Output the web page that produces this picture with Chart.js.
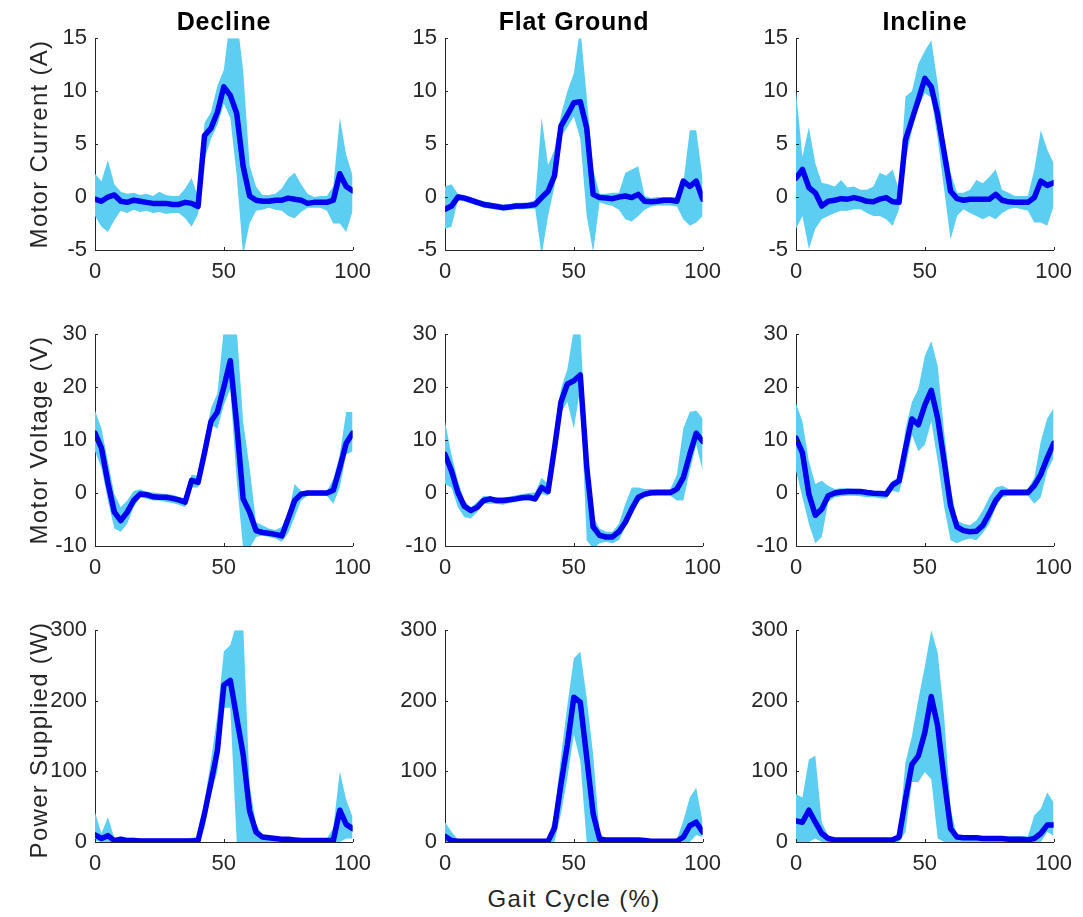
<!DOCTYPE html>
<html>
<head>
<meta charset="utf-8">
<script src="https://cdn.jsdelivr.net/npm/chart.js@4.4.1/dist/chart.umd.min.js"></script>
<style>
  body { margin: 0; background: #fff; }
  #fig { position: relative; width: 1083px; height: 917px; overflow: hidden;
         font-family: "Liberation Sans", Arial, Helvetica, sans-serif; color: #262626; }
  #fig canvas { position: absolute; }
  .txt { position: absolute; white-space: nowrap; text-align: center; }
  .title { font-weight: bold; font-size: 25px; line-height: 25px; letter-spacing: 0.8px; color: #000; width: 300px; }
  .axlbl { font-size: 24px; line-height: 24px; letter-spacing: 1.3px; width: 320px; }
</style>
</head>
<body>
<div id="fig"></div>
<script>
// gait cycle sample points (%)
var gait = [0,2.5,5,7.5,10,12.5,15,17.5,20,22.5,25,27.5,30,32.5,35,37.5,40,42.5,45,47.5,50,
            52.5,55,57.5,60,62.5,65,67.5,70,72.5,75,77.5,80,82.5,85,87.5,90,92.5,95,97.5,100];

var columnTitles = ['Decline', 'Flat Ground', 'Incline'];
var rowLabels = ['Motor Current (A)', 'Motor Voltage (V)', 'Power Supplied (W)'];
var xLabel = 'Gait Cycle (%)';

var xTicks = [0, 50, 100];
var currentTicks = [-5, 0, 5, 10, 15];
var voltageTicks = [-10, 0, 10, 20, 30];
var powerTicks = [0, 100, 200, 300];

// motor current (A)
var decCurMean = [-0.2,-0.4,0,0.2,-0.4,-0.5,-0.3,-0.4,-0.5,-0.6,-0.6,-0.6,-0.7,-0.7,-0.5,-0.6,-0.9,5.8,6.5,8.0,10.4,9.6,7.9,2.9,0.1,-0.3,-0.4,-0.4,-0.3,-0.3,-0.1,-0.2,-0.3,-0.6,-0.5,-0.5,-0.5,-0.3,2.2,1.0,0.6];
var decCurUpper = [2.2,1.5,3.5,1.2,0.5,0.3,0.4,0.2,0.3,0.1,0.5,0.2,0.1,0.1,0.8,1.8,0.0,7.0,8.0,10.5,12.0,17,17,12,3,1.0,0.2,0.2,0.3,0.8,1.8,2.3,1.2,0.3,0.0,0.1,0.1,1.0,7.5,4.0,2.0];
var decCurLower = [-1.8,-2.8,-3.3,-2.2,-1.3,-1.5,-1.2,-1.4,-1.3,-1.5,-1.4,-1.6,-1.5,-1.5,-2.0,-2.8,-1.6,3.5,5.5,6.8,8.8,7.5,2,-5.5,-2.5,-1.3,-1.2,-1.0,-1.2,-1.3,-1.8,-2.0,-1.4,-1.0,-1.0,-1.0,-1.3,-2.5,-2.5,-3.3,-1.3];

var flatCurMean = [-1.15,-0.85,0,-0.1,-0.3,-0.5,-0.7,-0.8,-0.9,-1.0,-0.95,-0.85,-0.85,-0.8,-0.7,-0.05,0.55,2.0,6.7,7.75,8.9,9.0,6.5,0.25,-0.05,-0.1,-0.15,0,0.1,-0.05,0.25,-0.4,-0.45,-0.4,-0.3,-0.3,-0.4,1.5,1.0,1.5,-0.2];
var flatCurUpper = [1.0,1.2,0.3,0.2,0,-0.2,-0.4,-0.5,-0.6,-0.7,-0.65,-0.55,-0.55,-0.5,-0.3,7.5,3.0,4.5,7.75,10,11.7,16,9.5,2.6,0.3,0.3,0.4,0.4,2.3,2.6,2.9,0.1,-0.1,0,0,0,0,1.3,6.3,6.3,1.7];
var flatCurLower = [-3.0,-2.8,-0.3,-0.4,-0.6,-0.8,-1.0,-1.1,-1.2,-1.3,-1.25,-1.15,-1.15,-1.1,-1.1,-5.5,-1.8,1.0,5.7,6.6,7.6,5.5,-1.8,-5.2,-0.5,-0.7,-0.85,-1.2,-2.1,-2.3,-1.8,-1.2,-0.9,-0.8,-0.8,-0.8,-0.9,-2.1,-2.7,-2.4,-1.8];

var incCurMean = [1.8,2.6,0.9,0.4,-0.85,-0.4,-0.3,-0.15,-0.2,-0.05,-0.2,-0.4,-0.45,-0.2,-0.05,-0.45,-0.5,5.4,7.3,9.2,11.2,10.4,7.75,4.2,0.55,-0.15,-0.3,-0.2,-0.2,-0.2,-0.2,0.25,-0.3,-0.45,-0.5,-0.5,-0.5,-0.05,1.5,1.1,1.35];
var incCurUpper = [10,3.8,6.6,3.2,1.35,1.2,1.0,1.6,0.9,1.0,0.7,0.7,1.0,2.3,2.0,2.6,0.7,9.5,10,12.6,13.8,14.8,10.7,5.4,2.3,0.4,0.4,0.7,1.6,1.3,1.9,2.6,0.7,0.4,0.1,0.1,0.1,2.6,6.3,4.5,3.2];
var incCurLower = [-3,-1.8,-4.9,-3.0,-2.1,-1.8,-1.5,-1.3,-1.3,-1.15,-1.15,-1.5,-1.8,-1.8,-2.1,-2.7,-1.15,3.5,6.3,8.5,9.8,9.4,5.4,0.7,-4,-1.8,-1.15,-1.5,-1.8,-2.1,-1.8,-2.1,-1.5,-1.15,-1.0,-1.15,-1.3,-2.4,-2.4,-2.7,-0.85];

// motor voltage (V)
var decVoltMean = [11.3,8.5,2.0,-3.6,-5.2,-3.6,-1.4,-0.2,-0.3,-0.7,-0.8,-0.8,-1.0,-1.3,-1.7,2.4,2.0,7.6,13.5,15.3,20,25,13,-1.1,-3.6,-7.1,-7.45,-7.6,-7.8,-8.1,-4.8,-1.4,-0.2,0,0,0,0,0.55,4.8,9.4,11.3];
var decVoltUpper = [15.6,12.2,6,-0.2,-2.7,-1.4,0.4,0.7,0.3,0.1,-0.05,-0.2,-0.3,-0.7,-1.1,3.5,3.2,9.75,16,18.8,31,31,31,13.5,4.8,-5.5,-6.1,-6.7,-7.0,-6.4,-3.9,1.7,0.4,0.4,0.4,0.4,0.4,2.6,7.3,15.3,15.3];
var decVoltLower = [7.9,4.8,-1.4,-6.7,-7.3,-5.8,-2.7,-0.8,-1.1,-1.4,-1.4,-1.7,-1.9,-2.2,-2.7,1.05,1.05,5.4,12.9,12.2,16.6,19.7,2.3,-10.5,-10.5,-8.3,-8,-8.3,-8.6,-9.2,-7.6,-4.5,-1.4,-0.5,-0.5,-0.5,-0.5,-2.0,1.05,7.3,7.9];

var flatVoltMean = [7.3,4.2,0.1,-2.5,-3.3,-2.7,-1.4,-1.1,-1.4,-1.4,-1.25,-1.1,-0.9,-0.8,-1.1,1.05,0.3,8.5,17.2,20.6,21.2,22.3,5,-6.4,-8.0,-8.3,-8.3,-7.3,-5.5,-3.0,-0.8,-0.2,0.05,0.1,0.1,0.1,0.75,2.9,7.3,11.3,9.75];
var flatVoltUpper = [13.5,7.3,2.3,-1.4,-2.7,-1.7,-0.5,-0.7,-0.8,-0.8,-0.7,-0.4,-0.2,0,0.1,2.9,1.7,11.6,19.7,23.4,31,31,8.5,-4.5,-6.7,-7.3,-7.3,-5.8,-2.0,1.05,1.05,0.75,0.75,0.75,0.75,0.75,3.5,12.2,15.3,15.6,14.1];
var flatVoltLower = [1.7,1.05,-2.7,-4.5,-4.8,-3.6,-2.0,-2.0,-2.0,-2.2,-1.9,-1.7,-1.4,-1.4,-1.7,-0.2,-0.5,6,15.3,17.2,12.2,19.7,-8.9,-10.5,-9.5,-9.2,-9.5,-8.9,-6.4,-3.9,-1.7,-0.8,-0.5,-0.5,-0.5,-0.5,-1.4,-1.4,4.2,9.1,4.2];

var incVoltMean = [10.4,7.6,-0.2,-4.2,-3.0,-0.5,0,0.2,0.3,0.3,0.3,0.1,-0.05,-0.1,-0.2,1.55,2.3,8.5,14,12.9,16.6,19.4,14.1,6,-2.4,-6.4,-7.1,-7.3,-7.2,-6.1,-3.9,-1.4,0.1,0.1,0.1,0.1,0.1,1.4,3.5,6.6,9.4];
var incVoltUpper = [16.9,13.5,6,1.7,2.3,1.4,0.75,0.9,0.9,0.8,0.75,0.6,0.45,0.4,0.45,2.3,2.9,12.2,17.2,19.7,25.9,28.7,24,11.6,1.05,-5.2,-5.8,-6.1,-5.2,-3.3,-0.8,1.05,1.4,0.75,0.75,0.75,0.75,2.9,9.75,14.1,16];
var incVoltLower = [4.2,-0.8,-5.8,-9.5,-8.3,-1.7,-0.8,-0.6,-0.5,-0.5,-0.6,-0.8,-0.8,-1.0,-1.1,0.45,0.1,4.8,11,7.9,9.1,13.5,6,-2.7,-8.9,-9.5,-8.9,-8.6,-8.9,-7.6,-5.8,-2.7,-0.8,-0.5,-0.5,-0.5,-0.5,-2.0,-0.8,4.2,6.6];

// power supplied (W)
var decPowMean = [10,5,9,2,4,2,2,1.5,1.5,1.5,1.5,1.5,1.5,1.5,1.5,1.5,2,40,84,129,222,229,176,124,44,14,7,6,5,4,4,3,2,2,2,2,2,2,45,25,19];
var decPowUpper = [42,12,35,6,7,6,6,5,5,5,5,5,5,5,5,6,7,58,115,180,270,279,310,310,80,25,10,8,7,6,6,5,5,5,5,5,5,20,100,60,35];
var decPowLower = [2,0,0,0,0,0,0,0,0,0,0,0,0,0,0,0,0,20,68,100,190,190,0,0,0,0,0,0,0,0,0,0,0,0,0,0,0,0,0,5,5];

var flatPowMean = [8,2,1,1,1,1,1,1,1,1,1,1,1,1,1,1,1,20,82,138,205,198,120,40,4,3,3,3,3,3,3,2,1,1,1,1,1,7,23,28,14];
var flatPowUpper = [28,15,3,3,3,3,3,3,3,3,3,3,3,3,3,3,3,40,120,194,260,270,204,124,12,4,4,4,4,4,4,4,4,4,4,4,4,30,63,77,28];
var flatPowLower = [0,0,0,0,0,0,0,0,0,0,0,0,0,0,0,0,0,0,40,91,152,115,0,0,0,0,0,0,0,0,0,0,0,0,0,0,0,0,0,10,7];

var incPowMean = [30,28,45,28,12,5,3,3,3,3,3,3,3,3,3,3,7,61,110,122,155,206,164,89,19,7,6,6,6,5,5,5,5,4,4,4,3,5,12,24,24];
var incPowUpper = [68,63,117,122,28,9,5,5,5,5,5,5,5,5,5,5,14,113,150,202,249,300,268,178,47,8,8,8,8,8,8,8,8,8,8,8,8,38,47,70,56];
var incPowLower = [0,0,0,5,0,0,0,0,0,0,0,0,0,0,0,0,0,14,85,85,99,89,5,0,0,0,0,0,0,0,0,0,0,0,0,0,0,0,0,14,9];

// layout (plot area of each subplot, in page pixels)
var plotLeft = [95, 445, 796];
var plotTop = [38, 334, 630];
var plotW = 258, plotH = 212;
var yAxisW = 56, xAxisH = 36, padTop = 14, padRight = 26;

var bandColor = '#5bcef1';
var lineColor = '#0000ee';
var axisColor = '#262626';
var fontFamily = '"Liberation Sans", Arial, Helvetica, sans-serif';

var panels = [
  [decCurMean, decCurUpper, decCurLower, currentTicks],
  [flatCurMean, flatCurUpper, flatCurLower, currentTicks],
  [incCurMean, incCurUpper, incCurLower, currentTicks],
  [decVoltMean, decVoltUpper, decVoltLower, voltageTicks],
  [flatVoltMean, flatVoltUpper, flatVoltLower, voltageTicks],
  [incVoltMean, incVoltUpper, incVoltLower, voltageTicks],
  [decPowMean, decPowUpper, decPowLower, powerTicks],
  [flatPowMean, flatPowUpper, flatPowLower, powerTicks],
  [incPowMean, incPowUpper, incPowLower, powerTicks]
];

// MATLAB style ticks pointing into the axes
var inwardTicks = {
  id: 'inwardTicks',
  afterDraw: function(chart) {
    var ctx = chart.ctx, a = chart.chartArea, xs = chart.scales.x, ys = chart.scales.y;
    ctx.save();
    ctx.strokeStyle = axisColor;
    ctx.lineWidth = 1;
    ctx.beginPath();
    xs.ticks.forEach(function(t) {
      var px = Math.round(xs.getPixelForValue(t.value)) + 0.5;
      ctx.moveTo(px, a.bottom);
      ctx.lineTo(px, a.bottom - 3);
    });
    ys.ticks.forEach(function(t) {
      var py = Math.round(ys.getPixelForValue(t.value)) + 0.5;
      ctx.moveTo(a.left, py);
      ctx.lineTo(a.left + 3, py);
    });
    ctx.stroke();
    ctx.restore();
  }
};

function pts(vals) {
  return vals.map(function(v, i) { return {x: gait[i], y: v}; });
}

function config(p) {
  var ticks = p[3];
  return {
    type: 'line',
    data: {
      datasets: [
        {data: pts(p[0]), borderColor: lineColor, borderWidth: 5.5, pointRadius: 0, fill: false, order: 0},
        {data: pts(p[1]), borderWidth: 0, pointRadius: 0, backgroundColor: bandColor, fill: '+1', order: 1},
        {data: pts(p[2]), borderWidth: 0, pointRadius: 0, fill: false, order: 2}
      ]
    },
    options: {
      responsive: false,
      maintainAspectRatio: false,
      animation: false,
      events: [],
      devicePixelRatio: 1,
      layout: {padding: {top: padTop, right: padRight, left: 0, bottom: 0}},
      plugins: {legend: {display: false}, tooltip: {enabled: false}},
      elements: {line: {tension: 0, borderJoinStyle: 'round', borderCapStyle: 'round'}},
      scales: {
        x: {
          type: 'linear', min: 0, max: 100,
          afterFit: function(s) { s.height = xAxisH; },
          afterBuildTicks: function(s) { s.ticks = xTicks.map(function(v) { return {value: v}; }); },
          grid: {display: false, drawTicks: false},
          border: {display: true, color: axisColor, width: 1},
          ticks: {font: {family: fontFamily, size: 22}, color: axisColor, padding: 9, maxRotation: 0, autoSkip: false}
        },
        y: {
          type: 'linear', min: ticks[0], max: ticks[ticks.length - 1],
          afterFit: function(s) { s.width = yAxisW; },
          afterBuildTicks: function(s) { s.ticks = ticks.map(function(v) { return {value: v}; }); },
          grid: {display: false, drawTicks: false},
          border: {display: true, color: axisColor, width: 1},
          ticks: {font: {family: fontFamily, size: 22}, color: axisColor, padding: 8, autoSkip: false}
        }
      }
    },
    plugins: [inwardTicks]
  };
}

function sizeCanvas(canvas, w, h) {
  canvas.width = w; canvas.height = h;
  canvas.style.width = w + 'px'; canvas.style.height = h + 'px';
}

var fig = document.getElementById('fig');

panels.forEach(function(p, k) {
  var row = Math.floor(k / 3), col = k % 3;
  var canvas = document.createElement('canvas');
  fig.appendChild(canvas);
  var w = plotW + yAxisW + padRight, h = plotH + padTop + xAxisH;
  sizeCanvas(canvas, w, h);
  var chart = new Chart(canvas, config(p));
  // grow the canvas so the plot area comes out at exactly plotW x plotH
  var a = chart.chartArea;
  var w2 = w + plotW - Math.round(a.right - a.left);
  var h2 = h + plotH - Math.round(a.bottom - a.top);
  chart.destroy();
  sizeCanvas(canvas, w2, h2);
  chart = new Chart(canvas, config(p));
  a = chart.chartArea;
  canvas.style.left = (plotLeft[col] - Math.round(a.left)) + 'px';
  canvas.style.top = (plotTop[row] - Math.round(a.top)) + 'px';
});

// column titles
columnTitles.forEach(function(t, c) {
  var d = document.createElement('div');
  d.className = 'txt title';
  d.textContent = t;
  d.style.left = (plotLeft[c] + plotW / 2 - 150) + 'px';
  d.style.top = '9px';
  fig.appendChild(d);
});

// row labels
var rowCenters = [plotTop[0] + plotH / 2, plotTop[1] + plotH / 2, plotTop[2] + plotH / 2 + 4];
rowLabels.forEach(function(t, r) {
  var d = document.createElement('div');
  d.className = 'txt axlbl';
  d.textContent = t;
  d.style.left = (38.5 - 160) + 'px';
  d.style.top = (rowCenters[r] - 12) + 'px';
  d.style.transform = 'rotate(-90deg)';
  fig.appendChild(d);
});

// shared x label
var xl = document.createElement('div');
xl.className = 'txt axlbl';
xl.textContent = xLabel;
xl.style.left = (plotLeft[1] + plotW / 2 - 160) + 'px';
xl.style.top = '887px';
fig.appendChild(xl);
</script>
</body>
</html>
